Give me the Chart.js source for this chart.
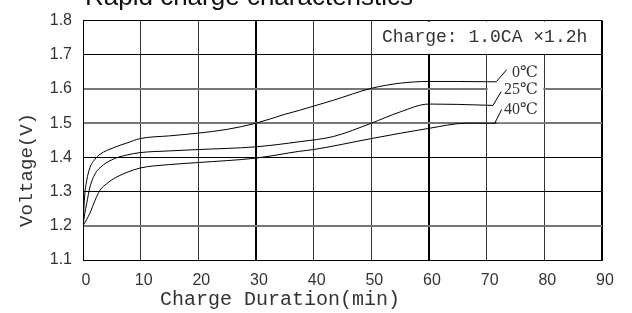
<!DOCTYPE html>
<html lang="en">
  <head>
    <meta charset="UTF-8" />
    <title>Rapid charge characteristics</title>
    <script src="https://cdn.jsdelivr.net/npm/chart.js"></script>
    <style>
      body { margin: 0; background: #fff; }
    </style>
  </head>
  <body>
    <canvas id="chart" width="632" height="313"></canvas>
    <script>
      // charge duration (min) and voltage (V)
      const minutes0 = [0, 0.3, 0.64, 1.2, 2.1, 2.95, 5.25, 7.6, 9.9, 15, 20, 25, 30, 35, 37.6, 40, 43.4, 50, 55, 59.9, 65, 71.7];
      const volts0 = [1.2, 1.29, 1.332, 1.37, 1.395, 1.409, 1.428, 1.442, 1.455, 1.463, 1.471, 1.482, 1.5, 1.526, 1.538, 1.55, 1.567, 1.602, 1.617, 1.622, 1.622, 1.621];

      const minutes25 = [0, 0.3, 0.64, 1.2, 2.1, 2.95, 5.25, 7.6, 9.9, 15, 20, 30, 37.6, 43.4, 50, 55, 60, 65, 71.1];
      const volts25 = [1.2, 1.235, 1.265, 1.313, 1.352, 1.37, 1.395, 1.407, 1.414, 1.419, 1.423, 1.431, 1.446, 1.461, 1.5, 1.533, 1.556, 1.555, 1.552];

      const minutes40 = [0, 1.2, 2.1, 2.95, 4.1, 5.25, 7.6, 9.9, 15, 20, 30, 37.6, 40, 50, 60, 66.5, 71.7];
      const volts40 = [1.2, 1.237, 1.275, 1.304, 1.323, 1.337, 1.356, 1.369, 1.379, 1.385, 1.398, 1.418, 1.423, 1.455, 1.485, 1.5, 1.5];

      const seriesNames = ["0\u2103", "25\u2103", "40\u2103"];
      // where each name sits and where its short leader line goes (data units)
      const leaderFrom = [[71.7, 1.622], [71.1, 1.552], [71.4, 1.5]];
      const leaderTo = [[73.5, 1.657], [72.5, 1.592], [72.6, 1.54]];
      const nameAt = [[74.4, 1.648], [73.0, 1.598], [73.0, 1.539]];

      const boxText = "Charge: 1.0CA \u00d71.2h";
      const titleText = "Rapid charge characteristics";
      const xTitle = "Charge Duration(min)";
      const yTitle = "Voltage(V)";

      const pts = (xs, ys) => xs.map((x, i) => ({ x, y: ys[i] }));

      const curve = (data) => ({
        data,
        borderColor: "#000",
        borderWidth: 1,
        pointRadius: 0,
        showLine: true,
        fill: false,
        cubicInterpolationMode: "monotone",
      });

      const overlay = {
        id: "overlay",
        beforeDatasetsDraw(chart) {
          const { ctx, scales: { x, y } } = chart;
          ctx.save();
          ctx.fillStyle = "#fff";
          // text box in the top right corner hides the grid under it
          ctx.fillRect(x.getPixelForValue(50) + 1, y.getPixelForValue(1.8) + 1,
            x.getPixelForValue(90) - x.getPixelForValue(50) - 2,
            y.getPixelForValue(1.7) - y.getPixelForValue(1.8) - 2);
          // room for the temperature names
          ctx.fillRect(x.getPixelForValue(70) + 1, y.getPixelForValue(1.7) + 1,
            x.getPixelForValue(80) - x.getPixelForValue(70) - 2,
            y.getPixelForValue(1.5) - y.getPixelForValue(1.7) - 2);
          ctx.restore();
        },
        afterDatasetsDraw(chart) {
          const { ctx, scales: { x, y } } = chart;
          ctx.save();
          ctx.strokeStyle = "#000";
          ctx.lineWidth = 1;
          leaderFrom.forEach((p, i) => {
            ctx.beginPath();
            ctx.moveTo(x.getPixelForValue(p[0]), y.getPixelForValue(p[1]));
            ctx.lineTo(x.getPixelForValue(leaderTo[i][0]), y.getPixelForValue(leaderTo[i][1]));
            ctx.stroke();
          });
          ctx.fillStyle = "#333";
          ctx.font = "16px 'Liberation Serif', 'DejaVu Serif', serif";
          ctx.textBaseline = "middle";
          ctx.textAlign = "left";
          seriesNames.forEach((name, i) => {
            ctx.fillText(name, x.getPixelForValue(nameAt[i][0]), y.getPixelForValue(nameAt[i][1]));
          });

          ctx.font = "18px 'Liberation Mono', monospace";
          ctx.textAlign = "center";
          ctx.fillText(boxText, (x.getPixelForValue(50) + x.getPixelForValue(90)) / 2 - 2, 37);
          ctx.restore();
        },
        afterDraw(chart) {
          const { ctx } = chart;
          ctx.save();
          ctx.fillStyle = "#111";
          ctx.textBaseline = "alphabetic";
          ctx.textAlign = "left";
          ctx.font = "100px 'Liberation Sans', Arial, sans-serif";
          const size = (100 * 328) / ctx.measureText(titleText).width;
          ctx.font = size.toFixed(1) + "px 'Liberation Sans', Arial, sans-serif";
          ctx.fillText(titleText, 85, 5);

          ctx.fillStyle = "#333";
          ctx.textAlign = "center";
          ctx.textBaseline = "middle";
          ctx.font = "20px 'Liberation Mono', monospace";
          ctx.fillText(xTitle, 280, 300);

          ctx.translate(27, 170);
          ctx.rotate(-Math.PI / 2);
          ctx.font = "19px 'Liberation Mono', monospace";
          ctx.fillText(yTitle, 0, 0);
          ctx.restore();
        },
      };

      new Chart(document.getElementById("chart"), {
        type: "scatter",
        data: {
          datasets: [
            curve(pts(minutes0, volts0)),
            curve(pts(minutes25, volts25)),
            curve(pts(minutes40, volts40)),
          ],
        },
        options: {
          responsive: false,
          animation: false,
          layout: { padding: { top: 17, right: 30, left: 0, bottom: 0 } },
          plugins: { legend: { display: false }, tooltip: { enabled: false } },
          scales: {
            x: {
              type: "linear",
              min: 0,
              max: 90,
              afterFit: (s) => { s.height = 53; },
              border: { color: "#000", width: 1 },
              grid: {
                drawTicks: false,
                color: (c) => (c.tick && c.tick.value % 30 === 0 ? "#000" : "#333"),
                lineWidth: (c) => (c.tick && c.tick.value % 30 === 0 && c.tick.value > 0 ? 2 : 1),
              },
              ticks: {
                stepSize: 10,
                padding: 11,
                labelOffset: 3,
                maxRotation: 0,
                color: "#333",
                font: { family: "'Liberation Sans', Arial, sans-serif", size: 16 },
              },
            },
            y: {
              min: 1.1,
              max: 1.8,
              afterFit: (s) => { s.width = 83; },
              border: { color: "#000", width: 1 },
              grid: {
                drawTicks: false,
                color: (c) => {
                  const v = c.tick ? Math.round(c.tick.value * 10) : 0;
                  return v === 12 || v === 15 || v === 16 ? "#777" : "#000";
                },
                lineWidth: (c) => {
                  const v = c.tick ? Math.round(c.tick.value * 10) : 0;
                  return v === 12 || v === 15 || v === 16 ? 2 : 1;
                },
              },
              ticks: {
                stepSize: 0.1,
                padding: 11,
                color: "#333",
                font: { family: "'Liberation Sans', Arial, sans-serif", size: 16 },
                callback: (v) => v.toFixed(1),
              },
            },
          },
        },
        plugins: [overlay],
      });
    </script>
  </body>
</html>
